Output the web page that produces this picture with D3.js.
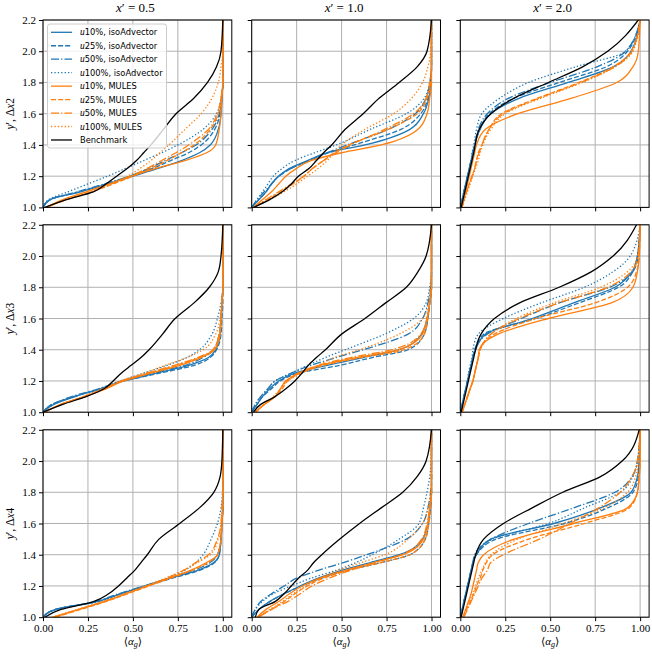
<!DOCTYPE html>
<html>
<head>
<meta charset="utf-8">
<script src="https://cdn.jsdelivr.net/npm/d3@7"></script>
<style>
  body { margin: 0; background: #fff; }
  svg { display: block; }
  .serif { font-family: "Liberation Serif", "DejaVu Serif", serif; }
  .sans { font-family: "DejaVu Sans", sans-serif; }
</style>
</head>
<body>
<div id="chart"></div>
<script>
// ---------- data (alpha_g read at fixed y' levels) ----------
const yLevels = [1.0, 1.05, 1.1, 1.15, 1.2, 1.25, 1.3, 1.35, 1.4, 1.5, 1.6, 1.7, 1.8, 1.9, 2.0, 2.2];

const seriesNames = ["u10%, isoAdvector", "u25%, isoAdvector", "u50%, isoAdvector", "u100%, isoAdvector",
                     "u10%, MULES", "u25%, MULES", "u50%, MULES", "u100%, MULES", "Benchmark"];
const colTitles = ["0.5", "1.0", "2.0"];
const rowLabels = ["2", "3", "4"];
const xTicks = [0, 0.25, 0.5, 0.75, 1.0];
const yTicks = [1.0, 1.2, 1.4, 1.6, 1.8, 2.0, 2.2];

// order in each panel: iso10, iso25, iso50, iso100, mul10, mul25, mul50, mul100, benchmark
const alphaDx2X05 = [
  [0, 0.04, 0.21, 0.36, 0.50, 0.64, 0.77, 0.87, 0.93, 0.975, 0.99, 0.995, 1, 1, 1, 1],
  [0, 0.04, 0.20, 0.35, 0.49, 0.61, 0.71, 0.81, 0.88, 0.955, 0.985, 0.995, 1, 1, 1, 1],
  [0, 0.04, 0.19, 0.34, 0.48, 0.59, 0.68, 0.77, 0.85, 0.94, 0.98, 0.993, 1, 1, 1, 1],
  [0, 0.03, 0.14, 0.25, 0.36, 0.46, 0.56, 0.66, 0.75, 0.89, 0.965, 0.99, 1, 1, 1, 1],
  [0.02, 0.11, 0.24, 0.37, 0.49, 0.63, 0.79, 0.91, 0.96, 0.98, 0.99, 0.995, 1, 1, 1, 1],
  [0.02, 0.13, 0.27, 0.39, 0.50, 0.60, 0.69, 0.77, 0.84, 0.93, 0.975, 0.99, 1, 1, 1, 1],
  [0.02, 0.13, 0.27, 0.38, 0.49, 0.58, 0.66, 0.74, 0.81, 0.92, 0.97, 0.99, 1, 1, 1, 1],
  [0.02, 0.12, 0.26, 0.37, 0.47, 0.54, 0.60, 0.65, 0.70, 0.79, 0.88, 0.94, 0.975, 0.99, 1, 1],
  [0.01, 0.13, 0.28, 0.35, 0.41, 0.47, 0.52, 0.56, 0.60, 0.67, 0.74, 0.84, 0.915, 0.965, 0.99, 1]
];
const alphaDx2X10 = [
  [0.0, 0.04, 0.08, 0.11, 0.15, 0.21, 0.31, 0.42, 0.63, 0.88, 0.955, 0.985, 0.995, 1, 1, 1],
  [0.0, 0.04, 0.08, 0.11, 0.15, 0.22, 0.32, 0.43, 0.57, 0.83, 0.94, 0.98, 0.995, 1, 1, 1],
  [0.0, 0.03, 0.07, 0.11, 0.15, 0.22, 0.32, 0.42, 0.53, 0.76, 0.91, 0.97, 0.99, 1, 1, 1],
  [0.0, 0.03, 0.06, 0.09, 0.12, 0.17, 0.24, 0.35, 0.47, 0.66, 0.86, 0.96, 0.99, 1, 1, 1],
  [0.01, 0.06, 0.11, 0.15, 0.19, 0.25, 0.33, 0.50, 0.72, 0.925, 0.975, 0.99, 1, 1, 1, 1],
  [0.01, 0.09, 0.16, 0.23, 0.29, 0.34, 0.40, 0.46, 0.54, 0.76, 0.92, 0.975, 0.995, 1, 1, 1],
  [0.01, 0.08, 0.15, 0.22, 0.29, 0.34, 0.40, 0.47, 0.55, 0.74, 0.90, 0.97, 0.99, 1, 1, 1],
  [0.01, 0.10, 0.18, 0.25, 0.31, 0.37, 0.42, 0.46, 0.50, 0.63, 0.79, 0.89, 0.95, 0.98, 0.995, 1],
  [0.01, 0.10, 0.17, 0.22, 0.26, 0.32, 0.36, 0.40, 0.445, 0.52, 0.62, 0.71, 0.82, 0.92, 0.975, 1]
];
const alphaDx2X20 = [
  [0.0, 0.01, 0.02, 0.03, 0.04, 0.05, 0.06, 0.07, 0.08, 0.11, 0.17, 0.33, 0.60, 0.85, 0.95, 1],
  [0.0, 0.01, 0.02, 0.03, 0.04, 0.05, 0.06, 0.07, 0.08, 0.11, 0.16, 0.30, 0.55, 0.81, 0.93, 1],
  [0.0, 0.01, 0.02, 0.03, 0.04, 0.05, 0.06, 0.07, 0.08, 0.10, 0.15, 0.27, 0.50, 0.76, 0.92, 1],
  [0.0, 0.01, 0.02, 0.03, 0.04, 0.05, 0.06, 0.065, 0.075, 0.09, 0.12, 0.22, 0.38, 0.64, 0.92, 1],
  [0.01, 0.02, 0.03, 0.04, 0.05, 0.06, 0.07, 0.08, 0.09, 0.14, 0.32, 0.62, 0.87, 0.96, 0.99, 1],
  [0.01, 0.02, 0.035, 0.05, 0.065, 0.08, 0.09, 0.10, 0.12, 0.16, 0.23, 0.43, 0.66, 0.85, 0.95, 1],
  [0.01, 0.02, 0.035, 0.05, 0.065, 0.08, 0.09, 0.105, 0.12, 0.16, 0.24, 0.44, 0.67, 0.86, 0.955, 1],
  [0.01, 0.025, 0.04, 0.055, 0.07, 0.085, 0.10, 0.11, 0.125, 0.17, 0.25, 0.45, 0.68, 0.86, 0.96, 1],
  [0.005, 0.015, 0.025, 0.035, 0.045, 0.055, 0.065, 0.075, 0.083, 0.105, 0.17, 0.30, 0.49, 0.68, 0.82, 0.99]
];
const alphaDx3X05 = [
  [0.0, 0.06, 0.18, 0.32, 0.45, 0.63, 0.81, 0.92, 0.96, 0.985, 0.99, 0.995, 1, 1, 1, 1],
  [0.0, 0.05, 0.17, 0.32, 0.45, 0.65, 0.84, 0.93, 0.965, 0.99, 0.995, 1, 1, 1, 1, 1],
  [0.0, 0.05, 0.16, 0.31, 0.44, 0.61, 0.79, 0.89, 0.95, 0.98, 0.99, 0.995, 1, 1, 1, 1],
  [0.0, 0.06, 0.17, 0.31, 0.43, 0.56, 0.69, 0.80, 0.87, 0.94, 0.97, 0.99, 1, 1, 1, 1],
  [0.01, 0.10, 0.23, 0.35, 0.45, 0.60, 0.76, 0.88, 0.955, 0.985, 0.99, 0.995, 1, 1, 1, 1],
  [0.01, 0.10, 0.23, 0.34, 0.44, 0.59, 0.74, 0.87, 0.95, 0.98, 0.99, 0.995, 1, 1, 1, 1],
  [0.01, 0.10, 0.23, 0.34, 0.44, 0.58, 0.73, 0.86, 0.945, 0.98, 0.99, 0.995, 1, 1, 1, 1],
  [0.01, 0.10, 0.22, 0.33, 0.43, 0.56, 0.68, 0.80, 0.89, 0.96, 0.985, 0.995, 1, 1, 1, 1],
  [0.0, 0.11, 0.24, 0.34, 0.39, 0.435, 0.49, 0.545, 0.59, 0.665, 0.735, 0.84, 0.925, 0.975, 0.99, 1]
];
const alphaDx3X10 = [
  [0.0, 0.03, 0.06, 0.10, 0.15, 0.24, 0.42, 0.62, 0.82, 0.945, 0.975, 0.99, 1, 1, 1, 1],
  [0.0, 0.03, 0.06, 0.11, 0.16, 0.26, 0.49, 0.67, 0.87, 0.96, 0.98, 0.99, 1, 1, 1, 1],
  [0.0, 0.02, 0.05, 0.09, 0.13, 0.22, 0.33, 0.47, 0.62, 0.87, 0.95, 0.98, 0.995, 1, 1, 1],
  [0.0, 0.02, 0.05, 0.09, 0.13, 0.22, 0.31, 0.41, 0.52, 0.74, 0.90, 0.97, 0.99, 1, 1, 1],
  [0.02, 0.07, 0.13, 0.16, 0.19, 0.26, 0.38, 0.58, 0.82, 0.95, 0.975, 0.99, 1, 1, 1, 1],
  [0.02, 0.07, 0.13, 0.17, 0.20, 0.27, 0.40, 0.61, 0.85, 0.96, 0.98, 0.99, 1, 1, 1, 1],
  [0.02, 0.07, 0.13, 0.16, 0.19, 0.26, 0.37, 0.55, 0.78, 0.94, 0.975, 0.99, 1, 1, 1, 1],
  [0.02, 0.07, 0.12, 0.16, 0.20, 0.28, 0.37, 0.46, 0.60, 0.82, 0.95, 0.985, 0.995, 1, 1, 1],
  [0.01, 0.05, 0.13, 0.19, 0.24, 0.28, 0.315, 0.36, 0.41, 0.50, 0.63, 0.745, 0.86, 0.925, 0.97, 1]
];
const alphaDx3X20 = [
  [0.0, 0.01, 0.02, 0.03, 0.04, 0.05, 0.06, 0.07, 0.085, 0.14, 0.40, 0.63, 0.86, 0.955, 0.985, 1],
  [0.0, 0.01, 0.02, 0.03, 0.04, 0.05, 0.06, 0.07, 0.08, 0.13, 0.42, 0.66, 0.88, 0.96, 0.99, 1],
  [0.0, 0.01, 0.02, 0.03, 0.04, 0.05, 0.06, 0.07, 0.08, 0.15, 0.34, 0.55, 0.83, 0.96, 0.985, 1],
  [0.0, 0.01, 0.02, 0.03, 0.04, 0.045, 0.055, 0.065, 0.07, 0.10, 0.24, 0.45, 0.69, 0.85, 0.945, 1],
  [0.01, 0.025, 0.04, 0.055, 0.07, 0.08, 0.09, 0.10, 0.105, 0.21, 0.49, 0.84, 0.96, 0.985, 0.995, 1],
  [0.01, 0.025, 0.04, 0.055, 0.07, 0.08, 0.09, 0.10, 0.11, 0.19, 0.42, 0.75, 0.93, 0.98, 0.995, 1],
  [0.01, 0.025, 0.04, 0.055, 0.07, 0.08, 0.09, 0.10, 0.11, 0.17, 0.33, 0.55, 0.82, 0.95, 0.99, 1],
  [0.01, 0.025, 0.04, 0.055, 0.07, 0.08, 0.09, 0.10, 0.11, 0.17, 0.31, 0.52, 0.78, 0.93, 0.985, 1],
  [0.005, 0.015, 0.025, 0.035, 0.045, 0.055, 0.065, 0.075, 0.085, 0.115, 0.19, 0.33, 0.55, 0.73, 0.85, 0.98]
];
const alphaDx4X05 = [
  [0.0, 0.07, 0.30, 0.43, 0.57, 0.71, 0.86, 0.95, 0.98, 0.99, 0.995, 1, 1, 1, 1, 1],
  [0.0, 0.07, 0.30, 0.43, 0.57, 0.72, 0.87, 0.955, 0.98, 0.99, 0.995, 1, 1, 1, 1, 1],
  [0.0, 0.07, 0.29, 0.42, 0.56, 0.70, 0.84, 0.93, 0.97, 0.99, 0.995, 1, 1, 1, 1, 1],
  [0.0, 0.08, 0.31, 0.44, 0.57, 0.69, 0.79, 0.85, 0.89, 0.935, 0.97, 0.99, 0.998, 1, 1, 1],
  [0.06, 0.20, 0.34, 0.46, 0.58, 0.70, 0.82, 0.91, 0.97, 0.99, 0.995, 1, 1, 1, 1, 1],
  [0.07, 0.21, 0.35, 0.47, 0.59, 0.71, 0.83, 0.92, 0.97, 0.99, 0.995, 1, 1, 1, 1, 1],
  [0.06, 0.20, 0.34, 0.46, 0.58, 0.69, 0.78, 0.85, 0.92, 0.97, 0.99, 0.995, 1, 1, 1, 1],
  [0.05, 0.19, 0.33, 0.45, 0.57, 0.68, 0.78, 0.86, 0.93, 0.975, 0.99, 0.995, 1, 1, 1, 1],
  [0.01, 0.10, 0.28, 0.365, 0.42, 0.465, 0.51, 0.545, 0.58, 0.645, 0.76, 0.87, 0.95, 0.985, 0.995, 1]
];
const alphaDx4X10 = [
  [0.0, 0.04, 0.10, 0.18, 0.27, 0.37, 0.50, 0.66, 0.82, 0.95, 0.98, 0.99, 1, 1, 1, 1],
  [0.0, 0.04, 0.10, 0.18, 0.28, 0.39, 0.53, 0.72, 0.88, 0.965, 0.985, 0.995, 1, 1, 1, 1],
  [0.0, 0.02, 0.05, 0.11, 0.18, 0.25, 0.37, 0.51, 0.64, 0.86, 0.95, 0.98, 0.995, 1, 1, 1],
  [0.0, 0.02, 0.06, 0.12, 0.22, 0.33, 0.47, 0.58, 0.67, 0.82, 0.93, 0.955, 0.975, 0.99, 0.998, 1],
  [0.03, 0.08, 0.15, 0.21, 0.28, 0.38, 0.52, 0.68, 0.84, 0.955, 0.98, 0.99, 1, 1, 1, 1],
  [0.03, 0.11, 0.18, 0.24, 0.31, 0.40, 0.54, 0.72, 0.88, 0.965, 0.985, 0.995, 1, 1, 1, 1],
  [0.04, 0.11, 0.20, 0.27, 0.335, 0.43, 0.55, 0.69, 0.83, 0.945, 0.975, 0.99, 1, 1, 1, 1],
  [0.03, 0.10, 0.17, 0.23, 0.30, 0.38, 0.48, 0.61, 0.74, 0.87, 0.95, 0.98, 0.995, 1, 1, 1],
  [0.02, 0.04, 0.13, 0.18, 0.22, 0.26, 0.31, 0.345, 0.39, 0.49, 0.60, 0.72, 0.84, 0.92, 0.97, 1]
];
const alphaDx4X20 = [
  [0.0, 0.01, 0.02, 0.03, 0.04, 0.05, 0.06, 0.07, 0.09, 0.17, 0.52, 0.78, 0.95, 0.985, 0.995, 1],
  [0.0, 0.01, 0.02, 0.03, 0.04, 0.05, 0.06, 0.07, 0.09, 0.20, 0.58, 0.82, 0.96, 0.99, 0.995, 1],
  [0.0, 0.01, 0.02, 0.03, 0.04, 0.05, 0.06, 0.07, 0.08, 0.17, 0.38, 0.63, 0.86, 0.955, 0.985, 1],
  [0.0, 0.01, 0.02, 0.03, 0.04, 0.05, 0.06, 0.07, 0.085, 0.18, 0.49, 0.69, 0.89, 0.96, 0.985, 1],
  [0.015, 0.03, 0.045, 0.06, 0.07, 0.08, 0.09, 0.10, 0.13, 0.30, 0.63, 0.93, 0.985, 0.995, 1, 1],
  [0.015, 0.035, 0.055, 0.075, 0.09, 0.11, 0.125, 0.145, 0.18, 0.38, 0.69, 0.94, 0.985, 0.995, 1, 1],
  [0.02, 0.04, 0.06, 0.08, 0.10, 0.12, 0.15, 0.17, 0.24, 0.44, 0.61, 0.77, 0.89, 0.955, 0.985, 1],
  [0.015, 0.03, 0.05, 0.07, 0.085, 0.10, 0.12, 0.14, 0.17, 0.32, 0.57, 0.80, 0.93, 0.975, 0.99, 1],
  [0.005, 0.015, 0.025, 0.035, 0.045, 0.055, 0.065, 0.075, 0.085, 0.13, 0.24, 0.40, 0.57, 0.78, 0.90, 0.995]
];

const panelData = [
  [alphaDx2X05, alphaDx2X10, alphaDx2X20],
  [alphaDx3X05, alphaDx3X10, alphaDx3X20],
  [alphaDx4X05, alphaDx4X10, alphaDx4X20]
];

// ---------- styles ----------
const blue = "#1f77b4", orange = "#ff7f0e";
const seriesColors = [blue, blue, blue, blue, orange, orange, orange, orange, "#000000"];
const seriesDash = [null, "5,2.1", "8,2.1,1.3,2.1", "1.3,2.1", null, "5,2.1", "8,2.1,1.3,2.1", "1.3,2.1", null];

// ---------- layout ----------
const colLeft = [43, 251.7, 460.3];
const rowTop = [20, 224.8, 429.8];
const pw = 188.8, ph = 187.4;

const svg = d3.select("#chart")
    .append("svg")
    .attr("width", 652)
    .attr("height", 656);

const x = d3.scaleLinear().domain([0, 1.05]).range([0, pw]);
const y = d3.scaleLinear().domain([1.0, 2.2]).range([ph, 0]);

const line = d3.line()
    .x(d => x(d[0]))
    .y(d => y(d[1]))
    .curve(d3.curveMonotoneY);

function drawPanel(r, c) {
  const g = svg.append("g")
      .attr("transform", `translate(${colLeft[c]}, ${rowTop[r]})`);

  // grid
  g.append("g").selectAll("line")
      .data(xTicks).join("line")
      .attr("x1", d => x(d)).attr("x2", d => x(d))
      .attr("y1", 0).attr("y2", ph)
      .attr("stroke", "#b0b0b0").attr("stroke-width", 1);
  g.append("g").selectAll("line")
      .data(yTicks).join("line")
      .attr("x1", 0).attr("x2", pw)
      .attr("y1", d => y(d)).attr("y2", d => y(d))
      .attr("stroke", "#b0b0b0").attr("stroke-width", 1);

  // clip
  const clipId = `clip-${r}-${c}`;
  g.append("clipPath").attr("id", clipId)
    .append("rect").attr("width", pw).attr("height", ph);

  // curves
  const curves = g.append("g").attr("clip-path", `url(#${clipId})`);
  panelData[r][c].forEach((vals, i) => {
    curves.append("path")
        .datum(yLevels.map((lv, k) => [vals[k], lv]))
        .attr("fill", "none")
        .attr("stroke", seriesColors[i])
        .attr("stroke-width", 1.3)
        .attr("stroke-dasharray", seriesDash[i])
        .attr("d", line);
  });

  // axes
  const xAxis = d3.axisBottom(x).tickValues(xTicks).tickSize(4).tickPadding(3)
      .tickFormat(r === 2 ? d3.format(".2f") : "");
  const yAxis = d3.axisLeft(y).tickValues(yTicks).tickSize(4).tickPadding(3)
      .tickFormat(c === 0 ? d3.format(".1f") : "");

  const gx = g.append("g").attr("transform", `translate(0, ${ph})`).call(xAxis);
  const gy = g.append("g").call(yAxis);
  [gx, gy].forEach(a => {
    a.attr("font-family", null).attr("class", "serif");
    a.select(".domain").remove();
    a.selectAll(".tick line").attr("stroke", "#000").attr("stroke-width", 1);
    a.selectAll(".tick text").attr("class", "serif").style("font-size", "11px").attr("fill", "#000");
  });

  // frame
  g.append("rect")
      .attr("width", pw).attr("height", ph)
      .attr("fill", "none").attr("stroke", "#000").attr("stroke-width", 1);

  // column title
  if (r === 0) {
    const t = svg.append("text")
        .attr("class", "serif")
        .attr("x", colLeft[c] + pw / 2 - 2)
        .attr("y", 12)
        .attr("text-anchor", "middle")
        .style("font-size", "13px");
    t.append("tspan").attr("font-style", "italic").text("x");
    t.append("tspan").text("\u2032 = " + colTitles[c]);
  }

  // row label
  if (c === 0) {
    const t = svg.append("text")
        .attr("class", "serif")
        .attr("transform", `translate(13.5, ${rowTop[r] + ph / 2}) rotate(-90)`)
        .attr("text-anchor", "middle")
        .style("font-size", "11.5px");
    t.append("tspan").attr("font-style", "italic").text("y");
    t.append("tspan").text("\u2032, \u0394");
    t.append("tspan").attr("font-style", "italic").text("x");
    t.append("tspan").text(rowLabels[r]);
  }

  // x label
  if (r === 2) {
    const t = svg.append("text")
        .attr("class", "serif")
        .attr("x", colLeft[c] + x(0.5))
        .attr("y", 645)
        .attr("text-anchor", "middle")
        .style("font-size", "11px");
    t.append("tspan").text("\u27e8");
    t.append("tspan").attr("font-style", "italic").text("\u03b1");
    t.append("tspan").attr("font-style", "italic").style("font-size", "8px").attr("dy", 2).text("g");
    t.append("tspan").attr("dy", -2).text("\u27e9");
  }
}

for (let r = 0; r < 3; r++) {
  for (let c = 0; c < 3; c++) drawPanel(r, c);
}

// ---------- legend (first panel) ----------
const legend = svg.append("g").attr("transform", "translate(47.5, 24)");
legend.append("rect")
    .attr("width", 119).attr("height", 124).attr("rx", 2.5)
    .attr("fill", "#fff").attr("fill-opacity", 0.8)
    .attr("stroke", "#cccccc").attr("stroke-width", 1);

seriesNames.forEach((name, i) => {
  const ly = 8.3 + i * 13.46;
  legend.append("line")
      .attr("x1", 3.5).attr("x2", 24.5)
      .attr("y1", ly).attr("y2", ly)
      .attr("stroke", seriesColors[i])
      .attr("stroke-width", 1.3)
      .attr("stroke-dasharray", seriesDash[i]);
  const t = legend.append("text")
      .attr("class", "sans")
      .attr("x", 32.5).attr("y", ly + 3)
      .style("font-size", "8.3px");
  if (name.startsWith("u")) {
    t.append("tspan").attr("class", "serif").attr("font-style", "italic").style("font-size", "9.5px").text("u");
    t.append("tspan").text(name.slice(1));
  } else {
    t.text(name);
  }
});
</script>
</body>
</html>
